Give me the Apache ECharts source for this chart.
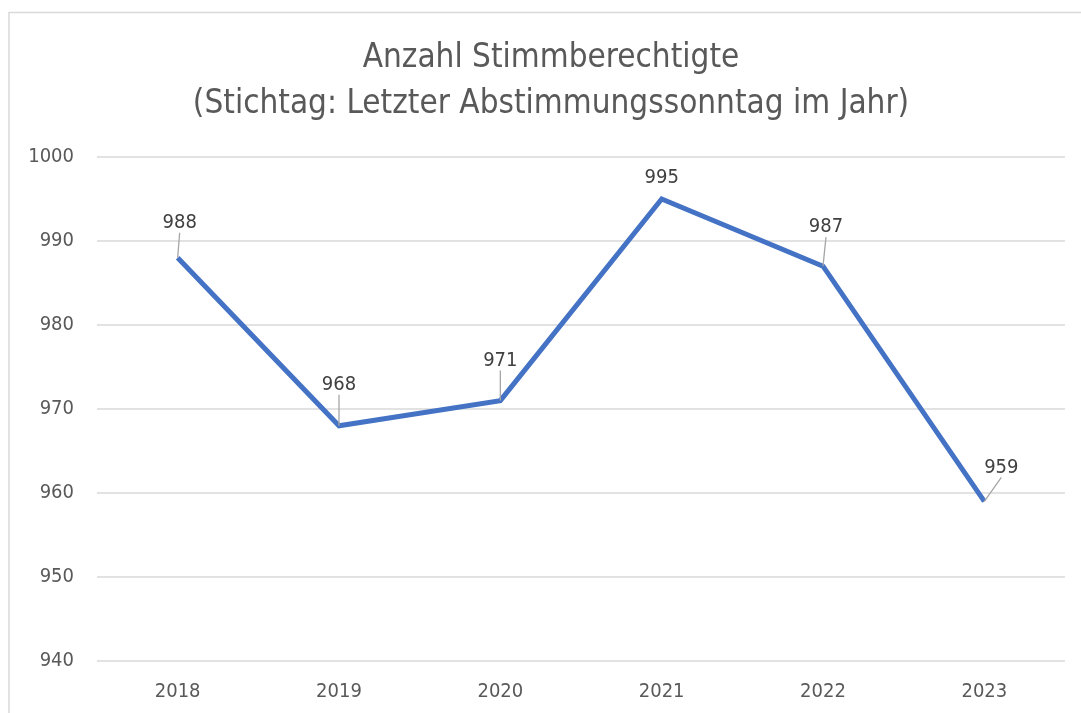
<!DOCTYPE html>
<html>
<head>
<meta charset="utf-8">
<script src="https://cdn.jsdelivr.net/npm/echarts@6/dist/echarts.min.js"></script>
<style>
html,body{margin:0;padding:0;background:#fff;}
#chart{width:1081px;height:713px;}
</style>
</head>
<body>
<div id="chart"></div>
<script>
const years = ['2018', '2019', '2020', '2021', '2022', '2023'];
const voters = [988, 968, 971, 995, 987, 959];
const yTicks = { min: 940, max: 1000, interval: 10 };
const titleLines = ['Anzahl Stimmberechtigte', '(Stichtag: Letzter Abstimmungssonntag im Jahr)'];

const FONT = '"Liberation Sans Narrow", "DejaVu Sans Condensed", "Open Sans", sans-serif';
const TXT = '#595959';
// label nudges (dx, dy) per point, mimicking the manually moved labels
const labelNudge = [[2, -20], [0, -26], [0, -25], [0, -6], [3, -24], [17, -19]];

const chart = echarts.init(document.getElementById('chart'), null, { renderer: 'canvas' });
chart.setOption({
  backgroundColor: '#fff',
  animation: false,
  graphic: [{
    type: 'polyline',
    shape: { points: [[9, 730], [9, 12.5], [1090, 12.5]] },
    style: { stroke: '#D9D9D9', lineWidth: 1.5, fill: null },
    silent: true
  }].concat(titleLines.map((t, i) => ({
    type: 'text',
    x: 551,
    y: 58 + i * 46,
    silent: true,
    style: {
      text: t, fill: TXT, font: 'normal 33px ' + FONT,
      textAlign: 'center', textVerticalAlign: 'middle'
    }
  }))),
  grid: { left: 97, right: 16, top: 157, bottom: 52, containLabel: false },
  xAxis: {
    type: 'category',
    data: years,
    boundaryGap: true,
    axisLine: { show: false },
    axisTick: { show: false },
    axisLabel: { color: TXT, fontFamily: FONT, fontSize: 20, margin: 21 }
  },
  yAxis: {
    type: 'value',
    min: yTicks.min, max: yTicks.max, interval: yTicks.interval,
    axisLine: { show: false },
    axisTick: { show: false },
    splitLine: { lineStyle: { color: '#D9D9D9', width: 1.5 } },
    axisLabel: { color: TXT, fontFamily: FONT, fontSize: 20, margin: 23, formatter: v => String(v) }
  },
  series: [{
    type: 'line',
    data: voters.map((v, i) => (i === 3 ? { value: v, labelLine: { show: false } } : v)),
    showSymbol: true,
    symbol: 'circle',
    symbolSize: 0.1,
    lineStyle: { color: '#4472C4', width: 5, join: 'miter' },
    itemStyle: { color: '#4472C4' },
    label: { show: true, position: 'top', distance: 5, color: '#404040', fontFamily: FONT, fontSize: 20 },
    labelLine: { show: true, lineStyle: { color: '#A6A6A6', width: 1.3 } },
    labelLayout: function (p) {
      const n = labelNudge[p.dataIndex] || [0, 0];
      return { dx: n[0], dy: n[1] };
    }
  }]
});
</script>
</body>
</html>
